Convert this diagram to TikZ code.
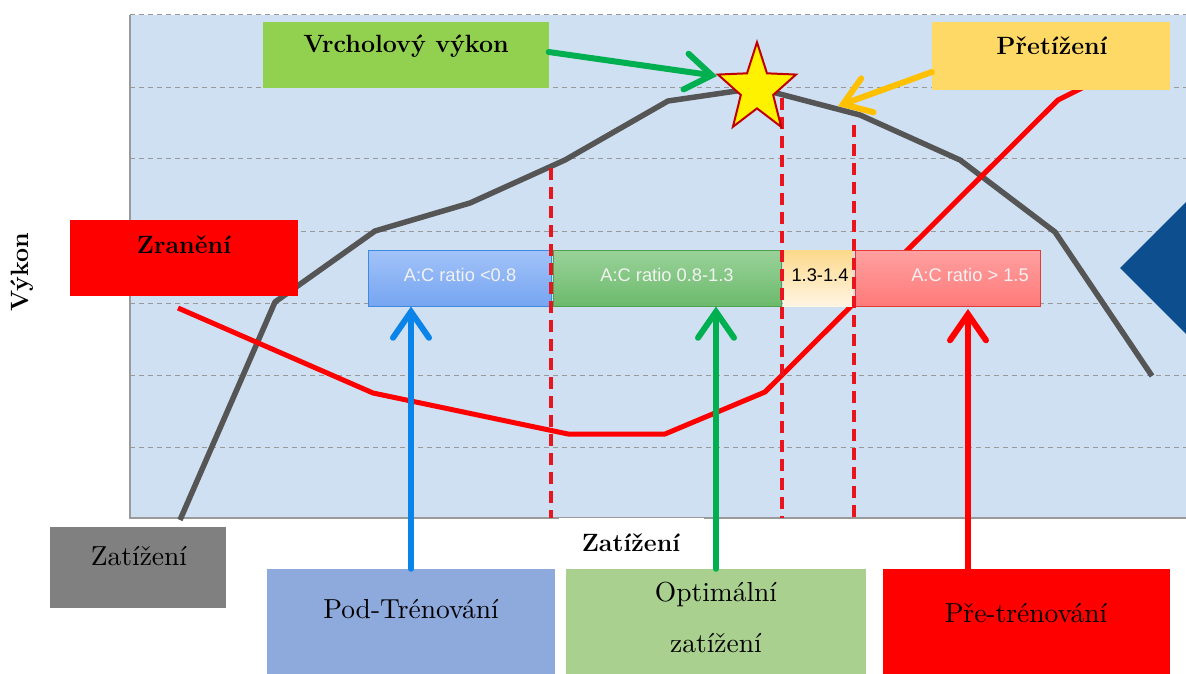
\documentclass[tikz,border=0pt]{standalone}
\usepackage{fontspec}
\newfontfamily\arialf{Liberation Sans}
\usetikzlibrary{shapes.geometric,arrows.meta}
\definecolor{plotbg}{HTML}{CFE0F2}
\definecolor{gridc}{HTML}{9A9A9A}
\definecolor{curvegray}{HTML}{555555}
\definecolor{curvered}{HTML}{FF0000}
\definecolor{dashred}{HTML}{E8141E}
\definecolor{vrchol}{HTML}{92D050}
\definecolor{pretiz}{HTML}{FFD966}
\definecolor{podc}{HTML}{8EA9DB}
\definecolor{optc}{HTML}{A9D08E}
\definecolor{grayb}{HTML}{808080}
\definecolor{bluea}{HTML}{0A84E8}
\definecolor{greena}{HTML}{00B050}
\definecolor{orangea}{HTML}{FFC000}
\definecolor{diam}{HTML}{0D4E8F}
\definecolor{starline}{HTML}{C00000}
\definecolor{r1top}{HTML}{A2C3F8}
\definecolor{r1bot}{HTML}{76A5F1}
\definecolor{r1line}{HTML}{3D8AE0}
\definecolor{r2top}{HTML}{9AD29A}
\definecolor{r2bot}{HTML}{6CBA6C}
\definecolor{r2line}{HTML}{4EA24E}
\definecolor{r3top}{HTML}{FDD98B}
\definecolor{r3bot}{HTML}{FFF5E3}
\definecolor{r4top}{HTML}{FFA0A0}
\definecolor{r4bot}{HTML}{FF7A7A}
\definecolor{r4line}{HTML}{E53935}
\newcommand{\biglbl}[1]{\scalebox{2.75}{\fontsize{10}{12}\selectfont #1}}
\tikzset{
  lblbold/.style={font=\fontsize{25}{29}\selectfont\bfseries, text=black, inner sep=0pt},
  lblreg/.style={text=black, inner sep=0pt, align=center},
  boxplain/.style={draw=none, inner sep=0pt},
  ratiotxt/.style={font=\arialf\fontsize{18.3}{21}\selectfont, text=white!95!black, inner sep=0pt},
  ratiobox/.style={inner sep=0pt, minimum height=56pt, line width=1pt},
  bigarrow/.style={line width=6pt, line cap=round, -{Straight Barb[length=26pt,width=36pt,line cap=round]}},
  gridline/.style={gridc, line width=1pt, dash pattern=on 5pt off 4pt},
  reddash/.style={dashred, line width=3.5pt, dash pattern=on 12pt off 7pt},
}
\begin{document}
\begin{tikzpicture}[x=1pt,y=-1pt]
\useasboundingbox (0,0) rectangle (1186,674);
\fill[white] (0,0) rectangle (1186,674);
\begin{scope}
\clip (0,0) rectangle (1186,674);
% plot area
\fill[plotbg] (130,15) rectangle (1190,518);
\foreach \yy in {15,88,159,231,303,375,447} {
  \draw[gridline] (130,\yy) -- (1190,\yy);
}
\draw[gridc, line width=1.5pt] (130,15) -- (130,518) -- (1190,518);
% curves
\draw[curvegray, line width=5.5pt, line join=round]
  (180,520) -- (275,302) -- (375,231) -- (470,203) -- (565,160) -- (668,101)
  -- (757,88) -- (860,115) -- (960,160) -- (1055,232) -- (1152,376);
\draw[curvered, line width=5pt, line join=round]
  (178,308) -- (373,393) -- (568,434) -- (665,434) -- (765,392) -- (1058,100) -- (1090,84);
% diamond
\fill[diam] (1120,268) -- (1196,192) -- (1272,268) -- (1196,344) -- cycle;
% ratio boxes
\node[ratiobox, minimum width=183pt, draw=r1line, top color=r1top, bottom color=r1bot] (r1) at (459.5,278) {};
\node[ratiobox, minimum width=228pt, draw=r2line, top color=r2top, bottom color=r2bot] (r2) at (667,278) {};
\node[ratiobox, minimum width=70pt, draw=none, top color=r3top, bottom color=r3bot] (r3) at (818,278) {};
\node[ratiobox, minimum width=185pt, draw=r4line, top color=r4top, bottom color=r4bot] (r4) at (947.5,278) {};
\node[ratiotxt] (t1) at (460,275) {A:C ratio <0.8};
\node[ratiotxt] (t2) at (667,275) {A:C ratio 0.8-1.3};
\node[ratiotxt, text=black] (t3) at (820,275) {1.3-1.4};
\node[ratiotxt] (t4) at (970,275) {A:C ratio > 1.5};
% dashed verticals
\coordinate (d1t) at (551,168); \coordinate (d1b) at (551,518);
\coordinate (d2t) at (782,98);  \coordinate (d2b) at (782,518);
\coordinate (d3t) at (854,125); \coordinate (d3b) at (854,518);
\draw[reddash] (d1t) -- (d1b);
\draw[reddash] (d2t) -- (d2b);
\draw[reddash] (d3t) -- (d3b);
% star
\draw[fill=yellow, draw=starline, line width=2pt, line join=miter, shift={(757,89)}, yscale=1.14]
  (-90:41) -- (-54:17) -- (-18:41) -- (18:17) -- (54:41) -- (90:17)
  -- (126:41) -- (162:17) -- (198:41) -- (234:17) -- cycle;
\coordinate (starleft) at (717,76);
% top labels
\node[boxplain, fill=vrchol, minimum width=286pt, minimum height=66pt] (vb) at (405.5,55) {};
\node[lblbold] (vt) at (406,46) {Vrcholový výkon};
\node[boxplain, fill=pretiz, minimum width=238pt, minimum height=68pt] (pb) at (1051,56) {};
\node[lblbold] (pt) at (1052,46) {Přetížení};
\node[boxplain, fill=red, minimum width=228pt, minimum height=76pt] (zb) at (184,258) {};
\node[lblbold] (zt) at (184,245) {Zranění};
\node[lblbold, rotate=90] (vyk) at (22,272) {Výkon};
% axis label
\node[boxplain, fill=white, minimum width=145pt, minimum height=42pt] (axb) at (631,539) {};
\node[lblbold] (axt) at (631,543) {Zatížení};
% bottom labels
\node[boxplain, fill=grayb, minimum width=176pt, minimum height=81pt] (gb) at (138,567.5) {};
\node[lblreg] (gt) at (139,556) {\biglbl{Zatížení}};
\node[boxplain, fill=podc, minimum width=288pt, minimum height=110pt] (pod) at (411,624) {};
\node[lblreg] (podt) at (411,609) {\biglbl{Pod-Trénování}};
\node[boxplain, fill=optc, minimum width=300pt, minimum height=110pt] (opt) at (716,624) {};
\node[lblreg] (optt1) at (716,594) {\biglbl{Optimální}};
\node[lblreg] (optt2) at (716,643) {\biglbl{zatížení}};
\node[boxplain, fill=red, minimum width=287pt, minimum height=110pt] (pre) at (1026.5,624) {};
\node[lblreg] (pret) at (1026,613) {\biglbl{Pře-trénování}};
% arrows
\coordinate (redfoot) at (968,569);
\coordinate (redtip) at (968,309);
\draw[bigarrow, bluea] (pod.north) -- (pod.north |- r1.south);
\draw[bigarrow, greena] (opt.north) -- (opt.north |- r2.south);
\draw[bigarrow, red] (redfoot) -- (redtip);
\draw[bigarrow, greena] (vb.east |- 0,52) -- (starleft);
\coordinate (ortip) at (838,106);
\draw[bigarrow, orangea] (pb.west |- 0,72) -- (ortip);
\end{scope}
\end{tikzpicture}
\end{document}
